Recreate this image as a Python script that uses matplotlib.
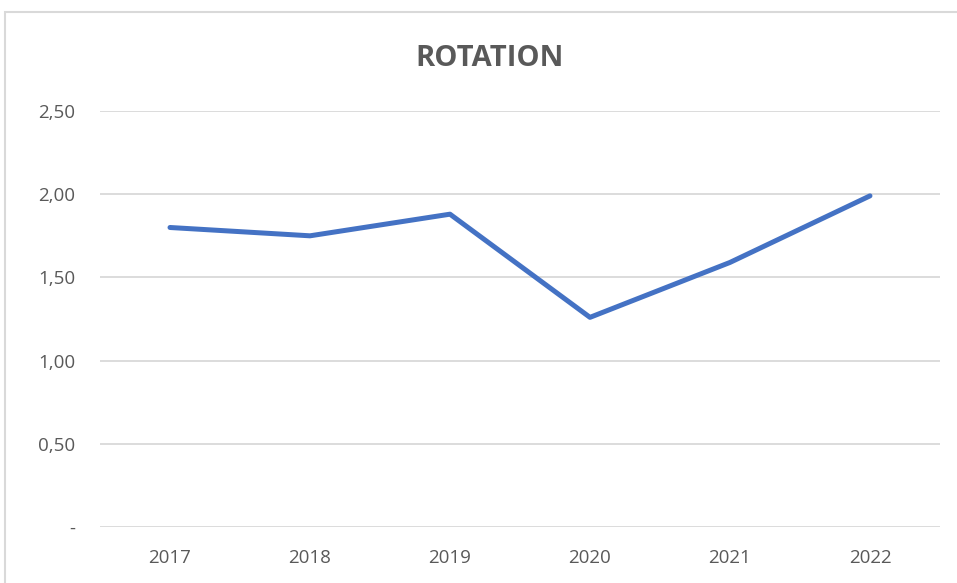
import matplotlib
matplotlib.use("Agg")
import matplotlib.pyplot as plt
from matplotlib.patches import Rectangle

# Данные графика
years = ["2017", "2018", "2019", "2020", "2021", "2022"]
rotation = [1.80, 1.75, 1.88, 1.26, 1.59, 1.99]
y_ticks = [0, 0.5, 1.0, 1.5, 2.0, 2.5]
y_labels = ["-", "0,50", "1,00", "1,50", "2,00", "2,50"]

plt.rcParams['font.family'] = ['Open Sans', 'DejaVu Sans']

fig = plt.figure(figsize=(9.57, 5.83), dpi=100)
ax = fig.add_axes([0.1045, 0.096, 0.8777, 0.7136])

x = range(len(years))
ax.plot(x, rotation, color="#4472C4", linewidth=3.6,
        solid_capstyle="round", solid_joinstyle="round", zorder=3)

ax.set_xlim(-0.5, len(years) - 0.5)
ax.set_ylim(0, 2.5)
ax.set_xticks(list(x))
ax.set_xticklabels(years)
ax.set_yticks(y_ticks)
ax.set_yticklabels(y_labels)
ax.tick_params(axis="both", length=0, labelsize=13.5, labelcolor="#595959")
ax.tick_params(axis="x", pad=16)
ax.tick_params(axis="y", pad=18)
for lab in ax.get_yticklabels():
    lab.set_horizontalalignment("right")

ax.grid(axis="y", color="#D9D9D9", linewidth=1.3)
ax.set_axisbelow(True)
for s in ax.spines.values():
    s.set_visible(False)

fig.text(0.512, 0.900, "ROTATION", ha="center", va="center",
         fontsize=21, fontweight="bold", color="#595959")

# рамка вокруг диаграммы (обрезана справа и снизу)
fig.patches.append(Rectangle((5 / 957, -0.05), 1.1, 1.05 - 12 / 583,
                             transform=fig.transFigure, fill=False,
                             edgecolor="#D9D9D9", linewidth=1.5))

plt.savefig("out.png", dpi=100)
